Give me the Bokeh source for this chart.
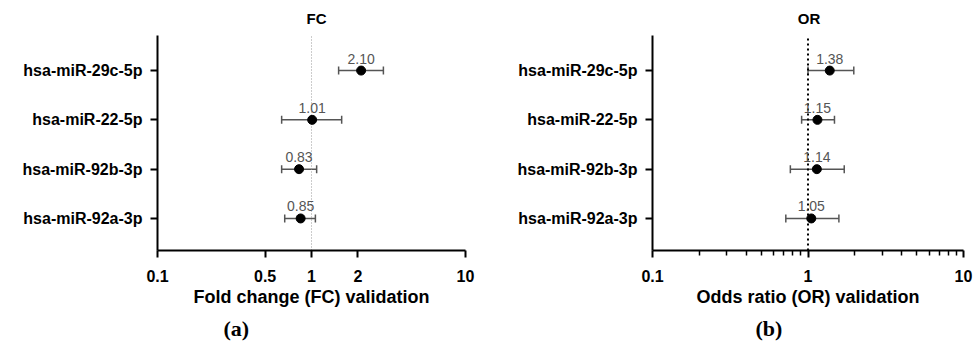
from bokeh.plotting import figure
from bokeh.models import (ColumnDataSource, Range1d, FixedTicker, NumeralTickFormatter,
                          Whisker, TeeHead, Title, Label, LabelSet)
from bokeh.core.properties import value
from bokeh.layouts import row
from bokeh.embed import file_html
from bokeh.resources import INLINE

mirnas = ["hsa-miR-29c-5p", "hsa-miR-22-5p", "hsa-miR-92b-3p", "hsa-miR-92a-3p"]
row_pos = [4, 3, 2, 1]

fc_values = [2.10, 1.01, 0.83, 0.85]
fc_lower = [1.50, 0.64, 0.64, 0.67]
fc_upper = [2.93, 1.57, 1.08, 1.06]
fc_labels = ["2.10", "1.01", "0.83", "0.85"]
fc_ticks = [0.1, 0.5, 1, 2, 10]

or_values = [1.38, 1.15, 1.14, 1.05]
or_lower = [1.00, 0.91, 0.77, 0.72]
or_upper = [1.97, 1.48, 1.71, 1.58]
or_labels = ["1.38", "1.15", "1.14", "1.05"]
or_ticks = [0.1, 1, 10]
or_minor = [0.2, 0.3, 0.4, 0.5, 0.6, 0.7, 0.8, 0.9, 2, 3, 4, 5, 6, 7, 8, 9]

FONT = "Liberation Sans"
Y_BOTTOM = 0.35
Y_TOP = 4.71          # top of the drawn axis
Y_CANVAS_TOP = 5.32   # extra room above the axis for the panel heading


def make_panel(title, title_dx, xlabel, letter, vals, lo, hi, labels, ticks, minor,
               left_border, right_border, fwidth, letter_offset, ref_style):
    src = ColumnDataSource(dict(y=row_pos, v=vals, lo=lo, hi=hi, lab=labels))
    p = figure(x_axis_type="log", x_range=Range1d(0.1, 10),
               y_range=Range1d(Y_BOTTOM, Y_CANVAS_TOP),
               frame_width=fwidth, frame_height=245, output_backend="svg",
               toolbar_location=None, min_border_left=left_border,
               min_border_right=right_border, min_border_top=5, min_border_bottom=0)
    p.outline_line_color = None
    p.grid.visible = False

    p.add_layout(Label(x=1, y=Y_TOP, text=title, x_offset=title_dx, y_offset=17,
                       text_align="center", text_baseline="middle", text_font=FONT,
                       text_font_size="15px", text_font_style="bold", text_color="black"))

    color, width, dash = ref_style
    p.segment(x0=[1], y0=[Y_BOTTOM], x1=[1], y1=[Y_TOP], line_color=color,
              line_width=width, line_dash=dash)

    p.add_layout(Whisker(source=src, base="y", lower="lo", upper="hi", dimension="width",
                         line_color="#555555", line_width=1.5,
                         lower_head=TeeHead(size=8, line_color="#555555", line_width=1.5),
                         upper_head=TeeHead(size=8, line_color="#555555", line_width=1.5)))
    p.scatter("v", "y", source=src, size=9, color="black")
    p.add_layout(LabelSet(x="v", y="y", text="lab", source=src, text_align="center",
                          text_baseline="bottom", y_offset=7, text_font_size="14px",
                          text_color="#555555", text_font=value(FONT)))

    xa = p.xaxis[0]
    xa.ticker = FixedTicker(ticks=ticks, minor_ticks=minor)
    xa.formatter = NumeralTickFormatter(format="0.[0]")
    xa.axis_label = xlabel
    xa.axis_label_text_font = FONT
    xa.axis_label_text_font_size = "18px"
    xa.axis_label_text_font_style = "bold"
    xa.axis_label_text_color = "black"
    xa.axis_label_standoff = 2
    xa.major_label_text_font = FONT
    xa.major_label_text_font_size = "16px"
    xa.major_label_text_font_style = "bold"
    xa.major_label_text_color = "black"
    xa.major_label_standoff = 12
    xa.axis_line_width = 2
    xa.major_tick_line_width = 2
    xa.major_tick_out = 7
    xa.major_tick_in = 0
    xa.minor_tick_line_width = 1.5
    xa.minor_tick_out = 5
    xa.minor_tick_in = 0

    ya = p.yaxis[0]
    ya.bounds = (Y_BOTTOM, Y_TOP)
    ya.ticker = FixedTicker(ticks=row_pos, minor_ticks=[])
    ya.major_label_overrides = {r: m for r, m in zip(row_pos, mirnas)}
    ya.major_label_text_font = FONT
    ya.major_label_text_font_size = "16px"
    ya.major_label_text_font_style = "bold"
    ya.major_label_text_color = "black"
    ya.major_label_standoff = 8
    ya.axis_line_width = 2
    ya.major_tick_line_width = 2
    ya.major_tick_out = 7
    ya.major_tick_in = 0
    ya.minor_tick_line_color = None

    t = Title(text=letter, align="left", offset=letter_offset, text_font="Liberation Serif",
              text_font_size="22px", text_font_style="bold", text_color="black", standoff=8)
    p.add_layout(t, "below")
    return p


p1 = make_panel("FC", 5, "Fold change (FC) validation", "(a)", fc_values, fc_lower, fc_upper,
                fc_labels, fc_ticks, [], 157, 23, 308, 66, ("#999999", 1, "1 2"))
p2 = make_panel("OR", 1, "Odds ratio (OR) validation", "(b)", or_values, or_lower, or_upper,
                or_labels, or_ticks, or_minor, 164, 12, 311, 103, ("black", 2, "2 3"))

layout = row(p1, p2, spacing=0)

open("out.html", "w").write(file_html(layout, INLINE))
